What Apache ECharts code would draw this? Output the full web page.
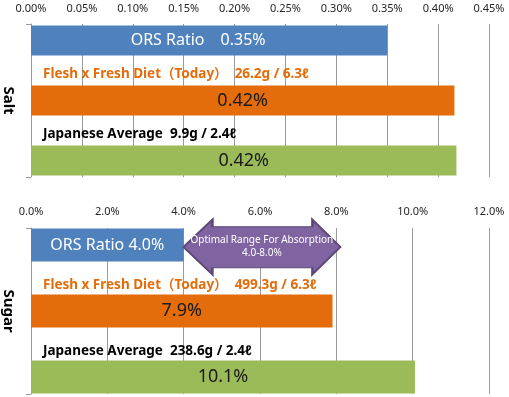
<!doctype html>
<html><head><meta charset="utf-8" />
<style>
  html,body,#app{margin:0;padding:0;width:509px;height:397px;background:#ffffff}
</style>
<script src="https://cdn.jsdelivr.net/npm/echarts@6/dist/echarts.min.js"></script>
</head><body><div id="app"></div>
<script>
// values are percentages (0.35 means 0.35%)
const saltCategory = ['Salt'];
const sugarCategory = ['Sugar'];
const seriesNames = ['ORS Ratio', 'Flesh x Fresh Diet（Today）', 'Japanese Average'];
const saltValues = [0.35, 0.416, 0.418];
const sugarValues = [4.0, 7.9, 10.06];
const saltLabels = ['ORS Ratio　0.35%', '0.42%', '0.42%'];
const sugarLabels = ['ORS Ratio 4.0%', '7.9%', '10.1%'];
const saltNotes = ['', 'Flesh x Fresh Diet（Today）  26.2g / 6.3ℓ', 'Japanese Average  9.9g / 2.4ℓ'];
const sugarNotes = ['', 'Flesh x Fresh Diet（Today）  499.3g / 6.3ℓ', 'Japanese Average  238.6g / 2.4ℓ'];
const saltAxis = { min: 0, max: 0.45, interval: 0.05, digits: 2 };
const sugarAxis = { min: 0, max: 12, interval: 2, digits: 1 };
const optimalRange = [4.0, 8.1];
const optimalText = 'Optimal Range For Absorption\n4.0-8.0%';

(function(){
  const FONT = "'Noto Sans', 'Noto Sans CJK JP', sans-serif";
  const barColors = ['#4f81bd', '#e46c0a', '#9bbb59'];
  const noteColors = ['#ffffff', '#e46c0a', '#000000'];
  const gridColor = '#9a9a9a';

  function xAxes(ax, grid, margin){
    return [
      { type:'value', gridIndex:grid, position:'top', min:ax.min, max:ax.max, interval:ax.interval,
        axisLine:{show:false}, axisTick:{show:false},
        axisLabel:{ color:'#262626', fontSize:11, fontFamily:FONT, margin:margin,
          formatter:(v)=> Number(v).toFixed(ax.digits) + '%' },
        splitLine:{ lineStyle:{ color:gridColor, width:1 } } },
      { type:'value', gridIndex:grid+1, min:ax.min, max:ax.max, show:false, splitLine:{show:false} }
    ];
  }
  function yAxes(cat, grid){
    return [
      { type:'category', gridIndex:grid, data:cat, inverse:true,
        axisLine:{ lineStyle:{ color:gridColor } },
        axisTick:{ show:true, length:5, lineStyle:{ color:gridColor } },
        axisLabel:{ rotate:-90, margin:15, color:'#000', fontSize:15, fontWeight:'bold', fontFamily:FONT } },
      { type:'category', gridIndex:grid+1, data:cat, inverse:true, show:false }
    ];
  }
  function mainSeries(values, labels, axisIdx, barWidth, firstShift){
    return values.map((v, i) => ({
      name: seriesNames[i], type:'bar', xAxisIndex:axisIdx, yAxisIndex:axisIdx,
      data:[v], barWidth:barWidth, barGap:'100%',
      itemStyle:{ color:barColors[i] },
      label:{ show:true, position:'inside', formatter:labels[i], fontFamily:FONT,
        offset: i === 0 ? [firstShift, 0] : [0, 0],
        color: i === 0 ? '#ffffff' : '#1a1a1a', fontSize: i === 0 ? 16 : 18 }
    }));
  }
  function noteSeries(values, notes, axisIdx, barWidth, dy){
    return values.map((v, i) => ({
      type:'bar', xAxisIndex:axisIdx, yAxisIndex:axisIdx, silent:true,
      data:[v], barWidth:barWidth, barGap:'100%',
      itemStyle:{ color:'rgba(0,0,0,0)' },
      label:{ show: notes[i] !== '', position:[12, dy], verticalAlign:'middle', align:'left',
        formatter:notes[i], color:noteColors[i], fontSize:13.5, fontWeight:'bold', fontFamily:FONT }
    }));
  }

  // the double arrow sits beside the ORS bar, spanning the optimal range
  const sugarMain = mainSeries(sugarValues, sugarLabels, 2, 33, 0);
  sugarMain[0].markPoint = {
    silent:true,
    symbol:'path://M0,27.5 L29,0 L29,7.3 L129,7.3 L129,0 L157,27.5 L129,55 L129,48.3 L29,48.3 L29,55 Z',
    symbolSize:[157, 55], symbolKeepAspect:false,
    itemStyle:{ color:'#8064a2', borderColor:'#5c4776', borderWidth:1.5 },
    label:{ show:true, position:'inside', formatter:optimalText, color:'#ffffff', fontSize:10, lineHeight:13, fontFamily:FONT },
    data:[{ coord:[(optimalRange[0] + optimalRange[1]) / 2, sugarCategory[0]], symbolOffset:[0, 2] }]
  };

  const chart = echarts.init(document.getElementById('app'));
  chart.setOption({
    animation:false,
    backgroundColor:'#ffffff',
    textStyle:{ fontFamily:FONT },
    grid:[
      { left:31, right:20, top:24, height:153 },
      { left:31, right:20, top:24, height:153 },
      { left:31, right:20, top:228, height:166 },
      { left:31, right:20, top:228, height:166 }
    ],
    xAxis:[].concat(xAxes(saltAxis, 0, 10), xAxes(sugarAxis, 2, 11)),
    yAxis:[].concat(yAxes(saltCategory, 0), yAxes(sugarCategory, 2)),
    series:[].concat(
      mainSeries(saltValues, saltLabels, 0, 30, -11),
      noteSeries(saltValues, saltNotes, 1, 30, -11),
      sugarMain,
      noteSeries(sugarValues, sugarNotes, 3, 33, -9)
    )
  });
})();
</script></body></html>
